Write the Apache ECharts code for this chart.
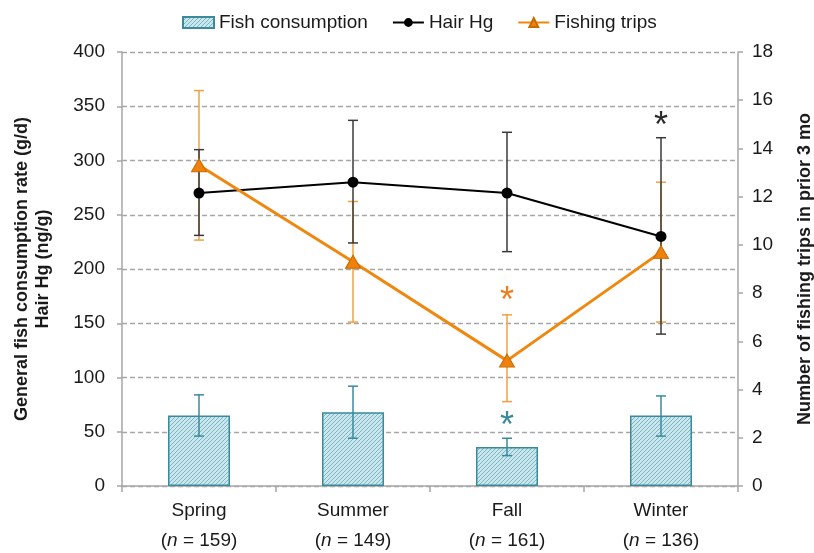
<!DOCTYPE html>
<html>
<head>
<meta charset="utf-8">
<script src="https://cdn.jsdelivr.net/npm/echarts@6/dist/echarts.min.js"></script>
<style>
  html, body { margin: 0; padding: 0; background: #ffffff; }
  #chart { width: 814px; height: 553px; }
</style>
</head>
<body>
<div id="chart"></div>
<script>
// Seasons and sample sizes
const seasons = ['Spring', 'Summer', 'Fall', 'Winter'];
const sampleSizes = [159, 149, 161, 136];

// General fish consumption rate (g/d), mean with error range
const fishConsumption = [65, 68, 36, 65];
const fishConsLow = [46, 44, 28, 46];
const fishConsHigh = [84, 92, 44, 83];

// Hair Hg (ng/g), mean with error range
const hairHg = [270, 280, 270, 230];
const hairHgLow = [231, 224, 216, 140];
const hairHgHigh = [310, 337, 326, 321];

// Number of fishing trips in prior 3 months (right axis)
const fishingTrips = [13.3, 9.3, 5.2, 9.7];
const tripsLow = [10.2, 6.8, 3.5, 6.8];
const tripsHigh = [16.4, 11.8, 7.1, 12.6];

// Significance markers: [category index, value]
const fishConsStars = [[2, 62]];
const tripsStars = [[2, 8.0]];
const hairHgStars = [[3, 339]];

// Axis ticks
const leftTicks = { min: 0, max: 400, interval: 50 };
const rightTicks = { min: 0, max: 18, interval: 2 };

const FONT = '"Liberation Sans", Arial, sans-serif';

// Diagonal hatch fill for the consumption bars
function hatchPattern() {
  const c = document.createElement('canvas');
  c.width = 4; c.height = 4;
  const ctx = c.getContext('2d');
  ctx.fillStyle = '#cbe6ed';
  ctx.fillRect(0, 0, 4, 4);
  ctx.strokeStyle = '#78b6c4';
  ctx.lineWidth = 1;
  ctx.beginPath();
  ctx.moveTo(0, 4); ctx.lineTo(4, 0);
  ctx.moveTo(-1, 1); ctx.lineTo(1, -1);
  ctx.moveTo(3, 5); ctx.lineTo(5, 3);
  ctx.stroke();
  return { image: c, repeat: 'repeat' };
}

function errorBars(low, high, yAxisIndex, color, lineWidth, capWidth, z) {
  return {
    type: 'custom',
    yAxisIndex: yAxisIndex,
    silent: true,
    z: z,
    data: seasons.map((s, i) => [i, low[i], high[i]]),
    renderItem: function (params, api) {
      const x = api.value(0);
      const lo = api.coord([x, api.value(1)]);
      const hi = api.coord([x, api.value(2)]);
      const h = capWidth / 2;
      const style = { stroke: color, lineWidth: lineWidth };
      return {
        type: 'group',
        children: [
          { type: 'line', shape: { x1: lo[0], y1: lo[1], x2: hi[0], y2: hi[1] }, style: style },
          { type: 'line', shape: { x1: lo[0] - h, y1: lo[1], x2: lo[0] + h, y2: lo[1] }, style: style },
          { type: 'line', shape: { x1: hi[0] - h, y1: hi[1], x2: hi[0] + h, y2: hi[1] }, style: style }
        ]
      };
    }
  };
}

// Asterisk glyph sits high in its em box, so nudge it down to centre on the point
function stars(points, yAxisIndex, color) {
  const size = 36;
  return {
    type: 'custom',
    yAxisIndex: yAxisIndex,
    silent: true,
    z: 10,
    data: points,
    renderItem: function (params, api) {
      const p = api.coord([api.value(0), api.value(1)]);
      return {
        type: 'text',
        x: p[0],
        y: p[1] + size * 0.24,
        style: {
          text: '*',
          fill: color,
          font: size + 'px ' + FONT,
          align: 'center',
          verticalAlign: 'middle'
        }
      };
    }
  };
}

const chart = echarts.init(document.getElementById('chart'));

chart.setOption({
  animation: false,
  backgroundColor: '#ffffff',
  textStyle: { fontFamily: FONT },
  legend: {
    top: 8,
    left: 177,
    itemWidth: 31,
    itemHeight: 11,
    itemGap: 24,
    textStyle: { fontSize: 19, color: '#1a1a1a', fontFamily: FONT },
    data: [
      { name: 'Fish consumption', icon: 'rect' },
      { name: 'Hair Hg' },
      { name: 'Fishing trips' }
    ]
  },
  grid: { left: 122, right: 76, top: 52, bottom: 67, outerBoundsMode: 'none' },
  xAxis: {
    type: 'category',
    data: seasons,
    boundaryGap: true,
    axisLine: { lineStyle: { color: '#a6a6a6', width: 1.5 } },
    axisTick: { show: true, length: 6, lineStyle: { color: '#a6a6a6', width: 1.5 } },
    axisLabel: {
      margin: 10,
      formatter: function (value, idx) {
        return '{a|' + value + '}\n{b|(}{i|n}{b| = ' + sampleSizes[idx] + ')}';
      },
      rich: {
        a: { fontSize: 19, color: '#1a1a1a', fontFamily: FONT, lineHeight: 30 },
        b: { fontSize: 19, color: '#1a1a1a', fontFamily: FONT, lineHeight: 30 },
        i: { fontSize: 19, color: '#1a1a1a', fontFamily: FONT, fontStyle: 'italic', lineHeight: 30 }
      }
    }
  },
  yAxis: [
    {
      type: 'value',
      min: leftTicks.min,
      max: leftTicks.max,
      interval: leftTicks.interval,
      position: 'left',
      name: 'General fish consumption rate (g/d)\nHair Hg (ng/g)',
      nameLocation: 'middle',
      nameRotate: 90,
      nameGap: 68,
      nameTextStyle: { fontSize: 18, fontWeight: 'bold', color: '#1a1a1a', lineHeight: 21, fontFamily: FONT },
      axisLine: { show: true, lineStyle: { color: '#a6a6a6', width: 1.5 } },
      axisTick: { show: true, length: 5, lineStyle: { color: '#a6a6a6', width: 1.5 } },
      axisLabel: { fontSize: 19, color: '#1a1a1a', margin: 17, fontFamily: FONT },
      splitLine: { show: true, lineStyle: { color: '#a6a6a6', type: [5, 3], width: 1.3 } }
    },
    {
      type: 'value',
      min: rightTicks.min,
      max: rightTicks.max,
      interval: rightTicks.interval,
      position: 'right',
      name: 'Number of fishing trips in prior 3 mo',
      nameLocation: 'middle',
      nameRotate: 90,
      nameGap: 58,
      nameTextStyle: { fontSize: 18, fontWeight: 'bold', color: '#1a1a1a', fontFamily: FONT },
      axisLine: { show: true, lineStyle: { color: '#a6a6a6', width: 1.5 } },
      axisTick: { show: true, length: 5, lineStyle: { color: '#a6a6a6', width: 1.5 } },
      axisLabel: { fontSize: 19, color: '#1a1a1a', margin: 14, fontFamily: FONT },
      splitLine: { show: false }
    }
  ],
  series: [
    {
      name: 'Fish consumption',
      type: 'bar',
      yAxisIndex: 0,
      barWidth: 62,
      data: fishConsumption,
      z: 2,
      itemStyle: { color: hatchPattern(), borderColor: '#3a8a9c', borderWidth: 1.5 }
    },
    errorBars(fishConsLow, fishConsHigh, 0, '#3a8a9c', 1.5, 10, 3),
    errorBars(tripsLow, tripsHigh, 1, '#f0a040', 1.5, 10, 4),
    errorBars(hairHgLow, hairHgHigh, 0, '#3a3a3a', 1.5, 10, 5),
    {
      name: 'Hair Hg',
      type: 'line',
      yAxisIndex: 0,
      data: hairHg,
      z: 6,
      symbol: 'circle',
      symbolSize: 11,
      lineStyle: { color: '#000000', width: 2 },
      itemStyle: { color: '#000000' }
    },
    {
      name: 'Fishing trips',
      type: 'line',
      yAxisIndex: 1,
      data: fishingTrips,
      z: 7,
      symbol: 'triangle',
      symbolSize: [15, 13],
      lineStyle: { color: '#f0870f', width: 3 },
      itemStyle: { color: '#ee820a', borderColor: '#c86a00', borderWidth: 1 }
    },
    stars(fishConsStars, 0, '#3a8a9c'),
    stars(tripsStars, 1, '#ee7d20'),
    stars(hairHgStars, 0, '#2a2a2a')
  ]
});
</script>
</body>
</html>
